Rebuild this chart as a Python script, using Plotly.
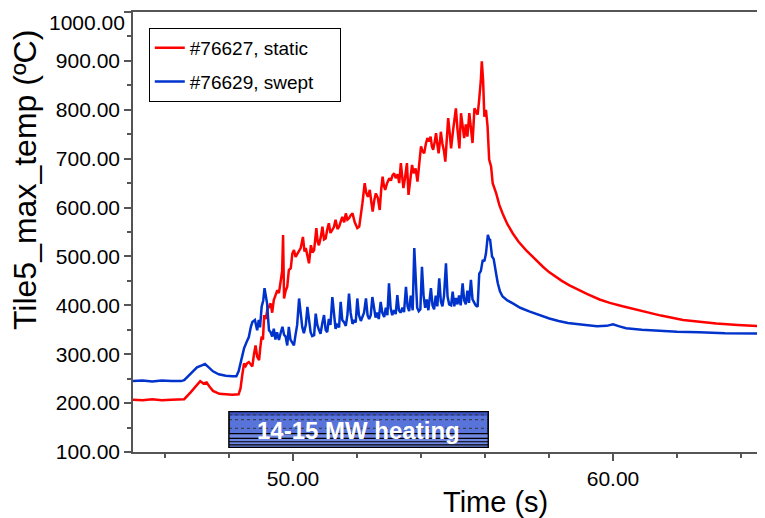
import plotly.graph_objects as go

# ---------------- data ----------------
static_t = [45.0, 45.3, 45.6, 45.9, 46.2, 46.5, 46.6, 46.8, 47.0, 47.1, 47.2, 47.3, 47.4, 47.5, 47.7, 47.9,
            48.1, 48.3, 48.36, 48.42, 48.47, 48.52, 48.57, 48.62, 48.68, 48.73, 48.78, 48.83, 48.88, 48.94,
            48.98, 49.02, 49.06, 49.10, 49.15, 49.20, 49.25, 49.30, 49.35, 49.40, 49.45, 49.51, 49.56, 49.61,
            49.66, 49.69, 49.72, 49.77, 49.82, 49.87, 49.93, 49.98, 50.03, 50.08, 50.14, 50.19, 50.24, 50.31,
            50.36, 50.40, 50.45, 50.50, 50.56, 50.61, 50.66, 50.73, 50.77, 50.81, 50.87, 50.92, 50.97, 51.02,
            51.07, 51.12, 51.17, 51.23, 51.28, 51.33, 51.39, 51.44, 51.49, 51.54, 51.60, 51.65, 51.70, 51.75,
            51.80, 51.86, 51.93, 52.01, 52.07, 52.12, 52.17, 52.24, 52.29, 52.34, 52.40, 52.45, 52.49, 52.54,
            52.59, 52.65, 52.71, 52.76, 52.80, 52.84, 52.88, 52.94, 53.01, 53.06, 53.11, 53.16, 53.21, 53.27,
            53.32, 53.37, 53.41, 53.45, 53.50, 53.56, 53.61, 53.66, 53.72, 53.77, 53.83, 53.89, 53.94, 54.00,
            54.05, 54.10, 54.15, 54.20, 54.25, 54.30, 54.34, 54.38, 54.43, 54.47, 54.51, 54.55, 54.60, 54.62,
            54.67, 54.72, 54.76, 54.80, 54.85, 54.90, 54.94, 55.01, 55.05, 55.09, 55.14, 55.20, 55.25, 55.30,
            55.35, 55.40, 55.45, 55.51, 55.56, 55.61, 55.67, 55.72, 55.77, 55.81, 55.84, 55.87, 55.90, 55.94,
            55.98, 56.03, 56.08, 56.13, 56.19, 56.24, 56.35, 56.45, 56.55, 56.70, 56.87, 57.05, 57.28, 57.55,
            57.81, 58.00, 58.22, 58.40, 58.64, 58.90, 59.20, 59.58, 59.90, 60.30, 60.93, 61.50, 62.19, 62.70,
            63.23, 63.90, 64.75]
static_v = [207, 206, 208, 206, 207, 207, 208, 222, 238, 245, 240, 242, 233, 225, 219, 218,
            217, 218, 230, 260, 281, 276, 282, 284, 279, 275, 300, 318, 295, 288,
            315, 336, 330, 380, 372, 392, 397, 404, 385, 411, 420, 431, 425, 445,
            470, 544, 414, 430, 438, 472, 476, 506, 513, 499, 505, 510, 517, 540,
            510, 517, 500, 486, 523, 508, 513, 558, 530, 523, 540, 561, 535, 537,
            555, 568, 548, 554, 560, 575, 556, 561, 570, 581, 570, 588, 575, 578,
            584, 588, 570, 558, 561, 592, 609, 650, 630, 622, 636, 610, 592, 615,
            629, 620, 595, 640, 663, 645, 636, 650, 660, 655, 666, 670, 660, 668,
            650, 691, 665, 640, 660, 691, 626, 655, 687, 670, 680, 653, 690, 725,
            715, 711, 730, 742, 735, 745, 725, 718, 735, 752, 730, 711, 740, 755,
            730, 715, 694, 740, 783, 750, 721, 762, 780, 803, 760, 721, 793, 760,
            742, 770, 745, 793, 760, 732, 803, 795, 790, 815, 834, 860, 899, 861,
            786, 800, 766, 698, 684, 650, 629, 605, 588, 566, 547, 530, 513, 495,
            479, 468, 458, 450, 441, 432, 423, 412, 405, 398, 388, 379, 370, 366,
            363, 360, 357]

swept_t = [45.0, 45.3, 45.6, 45.9, 46.2, 46.5, 46.6, 46.8, 47.0, 47.15, 47.25, 47.35, 47.5, 47.68, 47.9,
           48.1, 48.23, 48.30, 48.38, 48.47, 48.55, 48.62, 48.68, 48.73, 48.81, 48.85, 48.88, 48.93, 48.97,
           49.02, 49.07, 49.11, 49.15, 49.19, 49.22, 49.25, 49.30, 49.35, 49.40, 49.45, 49.50, 49.56, 49.62,
           49.67, 49.72, 49.77, 49.82, 49.87, 49.92, 49.97, 50.03, 50.08, 50.13, 50.19, 50.24, 50.29, 50.34,
           50.40, 50.45, 50.50, 50.55, 50.60, 50.66, 50.71, 50.76, 50.81, 50.86, 50.92, 50.97, 51.02, 51.07,
           51.12, 51.17, 51.23, 51.28, 51.33, 51.38, 51.44, 51.49, 51.54, 51.60, 51.65, 51.70, 51.75, 51.80,
           51.86, 51.91, 51.96, 52.01, 52.06, 52.12, 52.17, 52.22, 52.28, 52.33, 52.38, 52.43, 52.48, 52.53,
           52.58, 52.63, 52.68, 52.74, 52.79, 52.85, 52.90, 52.95, 53.00, 53.05, 53.10, 53.16, 53.21, 53.26,
           53.31, 53.36, 53.42, 53.47, 53.53, 53.58, 53.63, 53.68, 53.74, 53.79, 53.84, 53.88, 53.93, 53.98,
           54.03, 54.08, 54.13, 54.18, 54.23, 54.31, 54.36, 54.41, 54.46, 54.51, 54.57, 54.62, 54.67, 54.72,
           54.78, 54.83, 54.88, 54.94, 54.99, 55.04, 55.09, 55.14, 55.19, 55.24, 55.30, 55.35, 55.40, 55.45,
           55.50, 55.56, 55.61, 55.66, 55.71, 55.77, 55.82, 55.87, 55.93, 55.98, 56.03, 56.09, 56.13, 56.16,
           56.22, 56.27, 56.32, 56.36, 56.40, 56.47, 56.55, 56.70, 56.87, 57.10, 57.40, 57.70, 58.01, 58.30,
           58.59, 59.00, 59.50, 59.80, 60.00, 60.20, 60.41, 60.90, 61.35, 62.00, 62.70, 63.50, 64.75]
swept_v = [245, 246, 244, 246, 245, 245, 247, 260, 273, 277, 280, 274, 265, 259, 256,
           255, 255, 265, 290, 312, 325, 335, 355, 366, 370, 358, 349, 370, 355,
           397, 410, 435, 420, 404, 375, 349, 345, 336, 352, 330, 345, 329, 345,
           356, 340, 336, 318, 356, 330, 325, 318, 340, 360, 414, 380, 355, 343,
           360, 397, 375, 345, 337, 339, 383, 360, 350, 342, 365, 380, 350, 345,
           372, 360, 417, 375, 352, 360, 355, 407, 370, 365, 358, 380, 424, 385,
           362, 370, 365, 414, 380, 368, 375, 385, 414, 380, 372, 380, 417, 390,
           375, 385, 372, 407, 385, 376, 395, 380, 445, 395, 380, 390, 382, 421,
           390, 385, 395, 386, 438, 398, 388, 420, 390, 517, 430, 395, 388, 392,
           479, 420, 395, 412, 390, 435, 400, 392, 420, 398, 455, 408, 398, 420,
           486, 418, 402, 400, 428, 398, 415, 402, 420, 400, 445, 410, 402, 430,
           405, 452, 412, 405, 400, 397, 465, 470, 493, 490, 506, 544, 535, 534,
           500, 495, 479, 460, 445, 428, 418, 410, 404, 395, 387, 380, 373, 368,
           364, 361, 357, 358, 361, 357, 353, 350, 348, 346, 345, 343, 342]

series_names = ["#76627, static", "#76629, swept"]
series_colors = ["#ff0000", "#0033cc"]
y_tick_vals = [100, 200, 300, 400, 500, 600, 700, 800, 900, 1000]
x_tick_vals = [50, 60]
heating_label = "14-15 MW heating"
heating_span = [48.0, 56.1]
x_title = "Time (s)"
y_title = "Tile5_max_temp (ºC)"

FONT = "Liberation Sans, Arial, Helvetica, sans-serif"
PAD = "\u00a0" * 4

fig = go.Figure()
fig.add_trace(go.Scatter(x=static_t, y=static_v, mode="lines", name=series_names[0] + PAD,
                         legendgroup="a", line=dict(color=series_colors[0], width=2.5)))
fig.add_trace(go.Scatter(x=swept_t, y=swept_v, mode="lines", name=series_names[1] + PAD,
                         legendgroup="b", line=dict(color=series_colors[1], width=2.5)))

# heating bar
y_lo, y_hi = 109.6, 182.6
shapes = [dict(type="rect", xref="x", yref="y", x0=heating_span[0], x1=heating_span[1], y0=y_lo, y1=y_hi,
               fillcolor="#5873da", line=dict(color="#000000", width=1.2), layer="above")]
shapes.append(dict(type="rect", xref="x", yref="y", x0=heating_span[0], x1=heating_span[1], y0=174, y1=y_hi,
                   fillcolor="#3b52c4", line=dict(width=0), layer="above"))
shapes.append(dict(type="rect", xref="x", yref="y", x0=heating_span[0], x1=heating_span[1], y0=y_lo, y1=138,
                   fillcolor="#7088e2", line=dict(width=0), layer="above"))
for yy in [176, 166, 148.5]:
    shapes.append(dict(type="line", xref="x", yref="y", x0=heating_span[0], x1=heating_span[1], y0=yy, y1=yy,
                       line=dict(color="#333333", width=1, dash="dot"), layer="above"))
for yy in [137.5, 128, 121, 114.5]:
    shapes.append(dict(type="line", xref="x", yref="y", x0=heating_span[0], x1=heating_span[1], y0=yy, y1=yy,
                       line=dict(color="#000000", width=1.2), layer="above"))
shapes.append(dict(type="rect", xref="x", yref="y", x0=heating_span[0], x1=heating_span[1], y0=y_lo, y1=y_hi,
                   fillcolor="rgba(0,0,0,0)", line=dict(color="#000000", width=1.2), layer="above"))

# y tick labels; the topmost one sits slightly below its tick (as in the reference)
y_tick_text = [f"{v:.2f}" for v in y_tick_vals]
top_label = y_tick_text[-1]
y_tick_text[-1] = ""

annotations = [
    dict(x=(heating_span[0] + heating_span[1]) / 2, y=145, xref="x", yref="y", text=heating_label,
         showarrow=False, font=dict(family=FONT, size=24, color="white", weight="bold"),
         xanchor="center", yanchor="middle"),
    dict(x=0.5728, y=-0.113, xref="paper", yref="paper", text=x_title, showarrow=False,
         font=dict(family=FONT, size=29, color="black"), xanchor="center", yanchor="middle"),
    dict(x=-0.171, y=0.618, xref="paper", yref="paper", text=y_title, showarrow=False, textangle=-90,
         font=dict(family=FONT, size=32, color="black"), xanchor="center", yanchor="middle"),
    dict(x=0, y=y_tick_vals[-1], xref="paper", yref="y", text=top_label, showarrow=False,
         font=dict(family=FONT, size=21, color="black"), xanchor="right", yanchor="top",
         xshift=-6, yshift=3),
]

axis_common = dict(showline=True, linecolor="#555555", linewidth=1.5, ticks="outside", ticklen=7,
                   tickcolor="#555555", tickwidth=1.5, showgrid=False, zeroline=False,
                   tickfont=dict(family=FONT, size=21, color="black"))

# page body has an 8px margin, so the figure is offset by (8, 8) in the window
fig.update_layout(
    width=757, height=510,
    margin=dict(l=125, r=0, t=4, b=66),
    paper_bgcolor="white", plot_bgcolor="white",
    font=dict(family=FONT, color="black"),
    showlegend=True,
    legend=dict(x=0.025, y=0.964, xanchor="left", yanchor="top", bgcolor="white",
                bordercolor="#000000", borderwidth=1, font=dict(family=FONT, size=19, color="black"),
                tracegroupgap=6, traceorder="grouped"),
    xaxis=dict(range=[45, 64.75], tickvals=x_tick_vals, tickformat=".2f", mirror=True,
               minor=dict(dtick=2, tick0=0, ticks="outside", ticklen=4, tickcolor="#555555"),
               **axis_common),
    yaxis=dict(range=[100, 1000], tickvals=y_tick_vals, ticktext=y_tick_text,
               minor=dict(dtick=50, tick0=0, ticks="outside", ticklen=4, tickcolor="#555555"),
               **axis_common),
    shapes=shapes,
    annotations=annotations,
)

fig.write_html("out.html")
